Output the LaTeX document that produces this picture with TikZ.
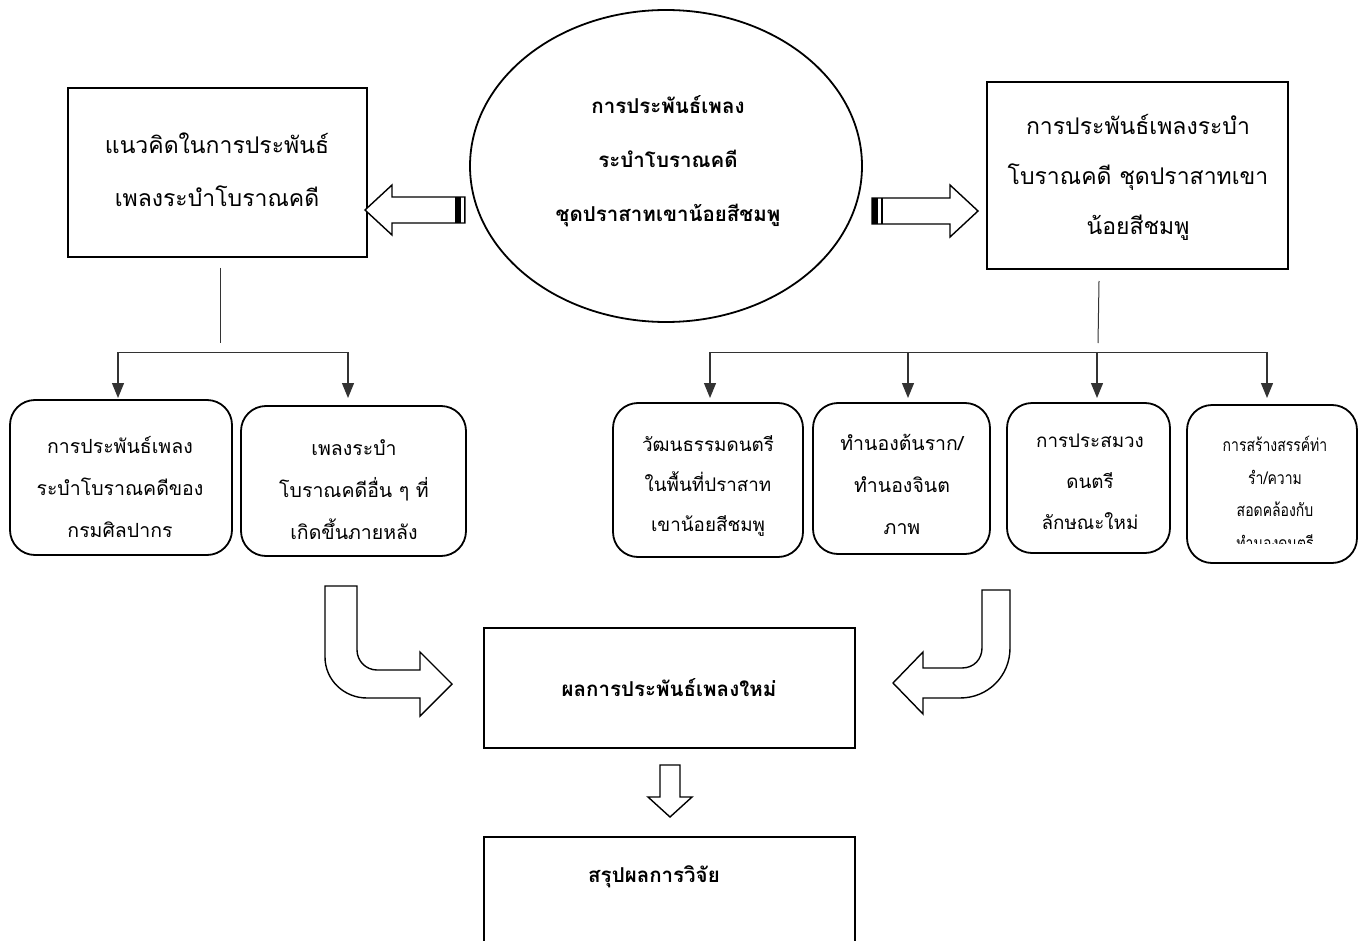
\documentclass[tikz,border=0pt]{standalone}
\usepackage{fontspec}
\usetikzlibrary{arrows.meta,shapes.geometric,fit}
\newfontfamily\thai[Script=Thai]{Loma}
\newfontfamily\thaicond[Script=Thai,FakeStretch=0.8]{Loma}
\begin{document}
\begin{tikzpicture}[x=1pt,y=-1pt,
  sqbox/.style={draw,line width=1.8pt,inner sep=0pt},
  rbox/.style={draw,line width=1.8pt,inner sep=0pt,rounded corners=25pt},
  bigtxt/.style={align=center,inner sep=0pt,font=\thai\fontsize{23}{53}\selectfont},
  boldtxt/.style={align=center,inner sep=0pt,font=\thai\bfseries\fontsize{20.5}{54}\selectfont},
  smalltxt/.style={align=center,inner sep=0pt,font=\thai\fontsize{19.5}{42}\selectfont},
  condtxt/.style={align=center,inner sep=0pt,font=\thaicond\fontsize{17.5}{32.5}\selectfont},
  harrow/.style={draw,line width=1.4pt,fill=white,line join=miter},
  conn/.style={draw=black!80,line width=1pt},
  arr/.style={draw=black!80,line width=1.2pt,-{Triangle[width=12pt,length=15pt]}}]
\useasboundingbox[fill=white] (0,0) rectangle (1359,941);

% top row
\node[sqbox,fit={(68,88) (367,257)}] (lbox) {};
\node[bigtxt] (lboxt) at (217,170) {แนวคิดในการประพันธ์\\เพลงระบำโบราณคดี};

\node[draw,ellipse,line width=1.8pt,minimum width=392pt,minimum height=312pt,inner sep=0pt] (ell) at (666,166) {};
\node[boldtxt] (ellt) at (668,161) {การประพันธ์เพลง\\ระบำโบราณคดี\\ชุดปราสาทเขาน้อยสีชมพู};

\node[sqbox,fit={(987,82) (1288,269)}] (rbox) {};
\node[bigtxt,font=\thai\fontsize{23}{50}\selectfont] (rboxt) at (1138,177) {การประพันธ์เพลงระบำ\\โบราณคดี ชุดปราสาทเขา\\น้อยสีชมพู};

% hollow arrows from ellipse
\draw[harrow] (465,197) -- (392,197) -- (392,185) -- (365,210) -- (392,235) -- (392,223) -- (465,223) -- cycle;
\fill (455,197) rectangle (461,223);
\draw[line width=1.2pt] (464.5,197) -- (464.5,223);
\draw[harrow] (872,198) -- (950,198) -- (950,185) -- (978,211) -- (950,237) -- (950,224) -- (872,224) -- cycle;
\fill (872,198) rectangle (878,224);
\draw[line width=1.2pt] (882,198) -- (882,224);

% left tree
\coordinate (lv1) at (220,268);
\coordinate (lv2) at (220,343);
\coordinate (lh1) at (118,352);
\coordinate (lh2) at (348,352);
\draw[conn] (lv1) -- (lv2);
\draw[conn] (lh1) -- (lh2);
\draw[arr] (lh1) -- ++(0,46);
\draw[arr] (lh2) -- ++(0,46);

\node[rbox,fit={(10,400) (232,555)}] (b1) {};
\node[smalltxt] (b1t) at (120,487) {การประพันธ์เพลง\\ระบำโบราณคดีของ\\กรมศิลปากร};
\node[rbox,fit={(241,406) (466,556)}] (b2) {};
\node[smalltxt] (b2t) at (354,490) {เพลงระบำ\\โบราณคดีอื่น ๆ ที่\\เกิดขึ้นภายหลัง};

% right tree
\coordinate (rv1) at (1099,281);
\coordinate (rv2) at (1098,343);
\coordinate (rh1) at (710,352);
\coordinate (rh2) at (908,352);
\coordinate (rh3) at (1097,352);
\coordinate (rh4) at (1267,352);
\draw[conn] (rv1) -- (rv2);
\draw[conn] (rh1) -- (rh4);
\draw[arr] (rh1) -- ++(0,46);
\draw[arr] (rh2) -- ++(0,46);
\draw[arr] (rh3) -- ++(0,46);
\draw[arr] (rh4) -- ++(0,46);

\node[rbox,fit={(613,403) (803,557)}] (ba) {};
\node[smalltxt,font=\thai\fontsize{18.8}{40}\selectfont] (bat) at (708,486) {วัฒนธรรมดนตรี\\ในพื้นที่ปราสาท\\เขาน้อยสีชมพู};
\node[rbox,fit={(813,403) (990,554)}] (bb) {};
\node[smalltxt,font=\thai\fontsize{19.5}{42}\selectfont] (bbt) at (902,484) {ทำนองต้นราก/\\ทำนองจินต\\ภาพ};
\node[rbox,fit={(1007,403) (1170,553)}] (bc) {};
\node[smalltxt,font=\thai\fontsize{18.8}{41}\selectfont] (bct) at (1090,482) {การประสมวง\\ดนตรี\\ลักษณะใหม่};
\node[rbox,fit={(1187,405) (1357,563)}] (bd) {};
\begin{scope}
\clip (1190,408) rectangle (1355,543);
\node[condtxt] (bdt) at (1275,493) {การสร้างสรรค์ท่า\\รำ/ความ\\สอดคล้องกับ\\ทำนองดนตรี};
\end{scope}

% curved arrows
\draw[harrow] (325,586) -- (357,586) -- (357,650) .. controls (357,661) and (366,670) .. (377,670) -- (420,670) -- (420,652) -- (452,684) -- (420,716) -- (420,698) -- (367,698) .. controls (344,698) and (325,680) .. (325,657) -- cycle;
\draw[harrow] (982,590) -- (1010,590) -- (1010,648) .. controls (1010,676) and (988,698) .. (960,698) -- (923,698) -- (923,714) -- (893,683) -- (923,652) -- (923,668) -- (962,668) .. controls (974,668) and (982,659) .. (982,648) -- cycle;

% result and conclusion
\node[sqbox,fit={(484,628) (855,748)}] (res) {};
\node[boldtxt] (rest) at (669,688) {ผลการประพันธ์เพลงใหม่};
\draw[harrow] (660,765) -- (680,765) -- (680,797) -- (692,797) -- (670,817) -- (648,797) -- (660,797) -- cycle;
\node[sqbox,fit={(484,837) (855,960)}] (conc) {};
\node[boldtxt] (conct) at (654,877) {สรุปผลการวิจัย};
\end{tikzpicture}
\end{document}
